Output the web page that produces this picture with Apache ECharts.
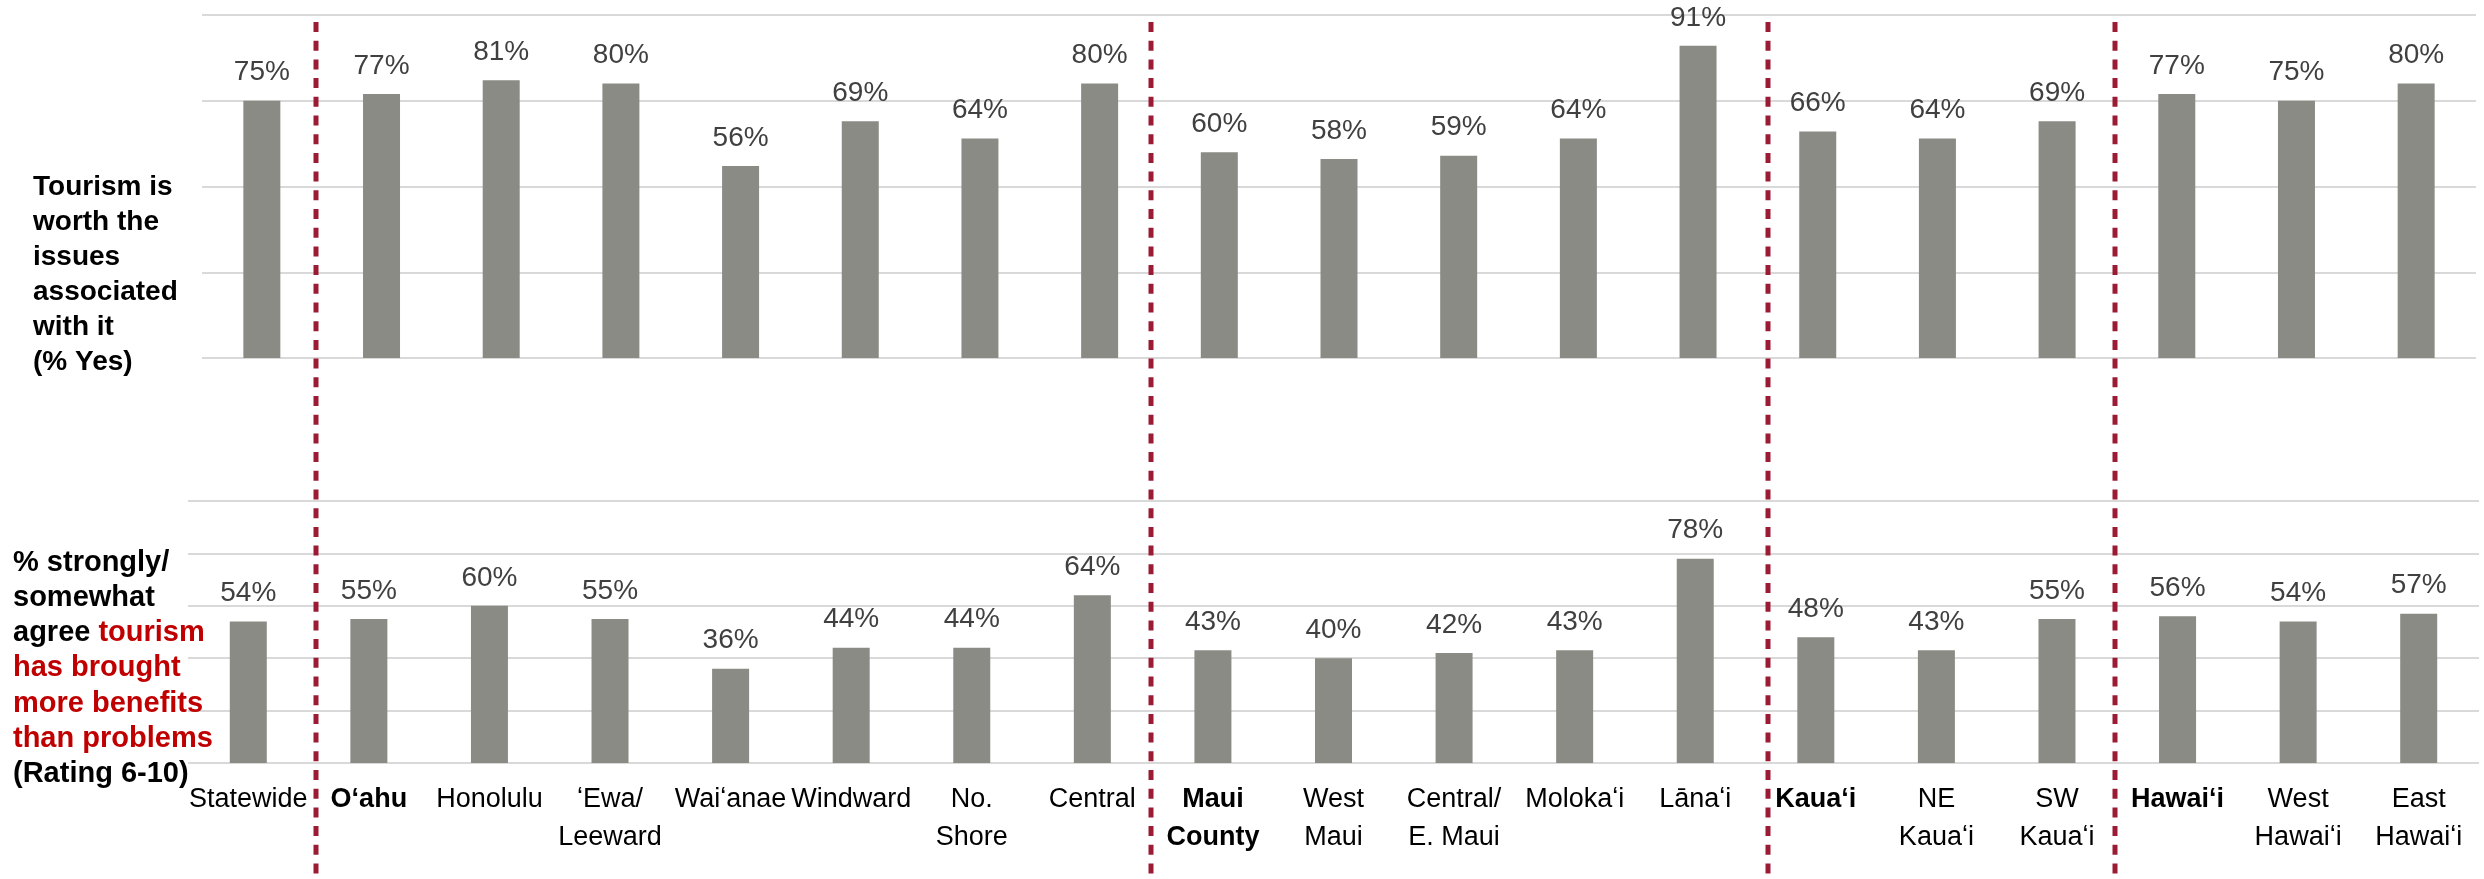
<!DOCTYPE html>
<html>
<head>
<meta charset="utf-8">
<script src="https://cdn.jsdelivr.net/npm/echarts@6/dist/echarts.min.js"></script>
<style>
html,body{margin:0;padding:0;background:#fff;}
#chart{width:2484px;height:879px;}
</style>
</head>
<body>
<div id="chart"></div>
<script>
// ---- data ----
const categories = [
  "Statewide", "Oʻahu", "Honolulu", "ʻEwa/\nLeeward", "Waiʻanae", "Windward", "No.\nShore", "Central",
  "Maui\nCounty", "West\nMaui", "Central/\nE. Maui", "Molokaʻi", "Lānaʻi",
  "Kauaʻi", "NE\nKauaʻi", "SW\nKauaʻi",
  "Hawaiʻi", "West\nHawaiʻi", "East\nHawaiʻi"
];
const boldCategories = ["Oʻahu", "Maui\nCounty", "Kauaʻi", "Hawaiʻi"];
const worthIssues = [75, 77, 81, 80, 56, 69, 64, 80, 60, 58, 59, 64, 91, 66, 64, 69, 77, 75, 80];
const moreBenefits = [54, 55, 60, 55, 36, 44, 44, 64, 43, 40, 42, 43, 78, 48, 43, 55, 56, 54, 57];
const topTicks = [0, 25, 50, 75, 100];
const bottomTicks = [0, 20, 40, 60, 80, 100];

const chart = echarts.init(document.getElementById('chart'), null, {renderer: 'canvas'});

const barColor = '#8B8B85';
const gridColor = '#D9D9D9';
const labelStyle = {
  show: true, position: 'top', distance: 14,
  fontFamily: 'Liberation Sans, Arial, sans-serif', fontSize: 28, color: '#404040',
  formatter: p => p.value + '%'
};
const dividerXs = [316, 1151, 1768, 2115];
const divColor = '#9B1B34';

function yAxisFor(ticks, gi) {
  return {
    type: 'value', gridIndex: gi, min: ticks[0], max: ticks[ticks.length - 1],
    interval: ticks[1] - ticks[0],
    axisLabel: {show: false}, axisLine: {show: false}, axisTick: {show: false},
    splitLine: {show: true, lineStyle: {color: gridColor, width: 2}}
  };
}

const option = {
  backgroundColor: '#ffffff',
  animation: false,
  grid: [
    {left: 202, right: 8, top: 15, height: 343},
    {left: 188, right: 5, top: 501, height: 262}
  ],
  xAxis: [
    {type: 'category', gridIndex: 0, data: categories,
     axisLabel: {show: false}, axisLine: {show: false}, axisTick: {show: false}},
    {type: 'category', gridIndex: 1, data: categories,
     axisLine: {show: false}, axisTick: {show: false},
     axisLabel: {
       interval: 0, margin: 18,
       formatter: v => boldCategories.includes(v)
         ? v.split('\n').map(s => '{b|' + s + '}').join('\n')
         : v.split('\n').map(s => '{n|' + s + '}').join('\n'),
       rich: {
         n: {fontFamily: 'Liberation Sans, Arial, sans-serif', fontSize: 27, color: '#000', lineHeight: 38},
         b: {fontFamily: 'Liberation Sans, Arial, sans-serif', fontSize: 27, fontWeight: 'bold', color: '#000', lineHeight: 38}
       }
     }}
  ],
  yAxis: [yAxisFor(topTicks, 0), yAxisFor(bottomTicks, 1)],
  series: [
    {type: 'bar', xAxisIndex: 0, yAxisIndex: 0, data: worthIssues, barWidth: 37,
     itemStyle: {color: barColor}, label: labelStyle},
    {type: 'bar', xAxisIndex: 1, yAxisIndex: 1, data: moreBenefits, barWidth: 37,
     itemStyle: {color: barColor}, label: labelStyle}
  ],
  graphic: [
    ...dividerXs.map(x => ({
      type: 'line', z: 100,
      shape: {x1: x, y1: 22, x2: x, y2: 874},
      style: {stroke: divColor, lineWidth: 5, lineDash: [10, 8.7]}
    })),
    {
      type: 'text', left: 33, top: 170, z: 100,
      style: {
        text: 'Tourism is\nworth the\nissues\nassociated\nwith it\n(% Yes)',
        fontFamily: 'Liberation Sans, Arial, sans-serif', fontSize: 28, fontWeight: 'bold',
        fill: '#000', lineHeight: 35
      }
    },
    {
      type: 'text', left: 13, top: 548, z: 100,
      style: {
        text: '{k|% strongly/}\n{k|somewhat}\n{k|agree }{r|tourism}\n{r|has brought}\n{r|more benefits}\n{r|than problems}\n{k|(Rating 6-10)}',
        rich: {
          k: {fontFamily: 'Liberation Sans, Arial, sans-serif', fontSize: 29, fontWeight: 'bold', fill: '#000', lineHeight: 35.3},
          r: {fontFamily: 'Liberation Sans, Arial, sans-serif', fontSize: 29, fontWeight: 'bold', fill: '#C00000', lineHeight: 35.3}
        }
      }
    }
  ]
};
chart.setOption(option);
</script>
</body>
</html>
